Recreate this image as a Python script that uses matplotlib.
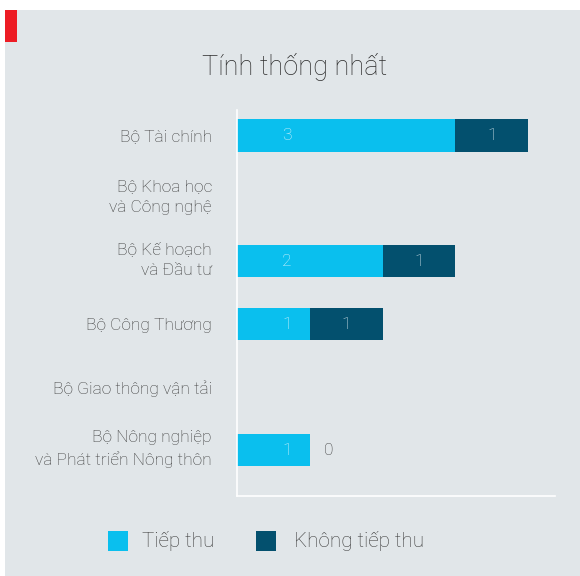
import matplotlib
matplotlib.use("Agg")
import matplotlib.pyplot as plt
from matplotlib.patches import Rectangle
from matplotlib.transforms import ScaledTranslation

categories = ["Bộ Tài chính", "Bộ Khoa học\nvà Công nghệ", "Bộ Kế hoạch\nvà Đầu tư",
              "Bộ Công Thương", "Bộ Giao thông vận tải",
              "Bộ Nông nghiệp\nvà Phát triển Nông thôn"]
tiep_thu = [3, None, 2, 1, None, 1]
khong_tiep_thu = [1, None, 1, 1, None, 0]
series_names = ["Tiếp thu", "Không tiếp thu"]
title = "Tính thống nhất"

C_LIGHT = "#0ABFEE"
C_DARK = "#03506E"
BG = "#E1E6E9"
TXT = "#3C3C3C"

plt.rcParams['font.family'] = ['Roboto', 'DejaVu Sans']
W, H = 580, 576
fig = plt.figure(figsize=(W/100, H/100), dpi=100, facecolor="white")

def px(x0, y0, x1, y1):
    return [x0/W, 1 - y1/H, (x1-x0)/W, (y1-y0)/H]

fig.patches.append(Rectangle((5/W, 0), 1 - 5/W, 1 - 10/H, transform=fig.transFigure,
                             facecolor=BG, edgecolor="none", zorder=-10))
fig.patches.append(Rectangle((5/W, 1 - 42/H), 12/W, 32/H, transform=fig.transFigure,
                             facecolor="#ED1C24", edgecolor="none", zorder=-9))
fig.text(295/W, 1 - 67/H, title, ha="center", va="center", fontsize=19.5,
         color="#2E2E2E", fontweight="light")

ax = fig.add_axes(px(237, 110, 555, 496))
ax.set_facecolor("none")
ys = list(range(len(categories)))
for i, (a, b) in enumerate(zip(tiep_thu, khong_tiep_thu)):
    if a is None:
        continue
    ax.barh(i, a, height=0.52, color=C_LIGHT, edgecolor="none")
    ax.text(0.69, i, str(a), ha="center", va="center", color="#D8F4FC",
            fontsize=12.5, fontweight="light")
    if b:
        ax.barh(i, b, left=a, height=0.52, color=C_DARK, edgecolor="none")
        ax.text(a + b/2, i, str(b), ha="center", va="center", color="#D8E6EC",
                fontsize=12.5, fontweight="light")
    else:
        ax.text(a + 0.19, i, str(b), ha="left", va="center", color=TXT,
                fontsize=12.5, fontweight="light")

ax.set_xlim(0, 4.37)
ax.set_ylim(5.73, -0.4)
ax.set_yticks(ys)
ax.set_yticklabels(categories, fontsize=12.5, color=TXT, fontweight="light",
                   linespacing=1.45)
ax.tick_params(axis="y", length=0, pad=18)
for lbl in ax.get_yticklabels():
    if "\n" in lbl.get_text():
        lbl.set_transform(lbl.get_transform() + ScaledTranslation(0, 0.055, fig.dpi_scale_trans))
ax.set_xticks([])
for s in ["top", "right"]:
    ax.spines[s].set_visible(False)
for s in ["left", "bottom"]:
    ax.spines[s].set_color("white")
    ax.spines[s].set_linewidth(1.2)

# legend
fig.patches.append(Rectangle((108/W, 1 - 551/H), 20/W, 20/H, transform=fig.transFigure,
                             facecolor=C_LIGHT, edgecolor="none"))
fig.text(142/W, 1 - 541/H, series_names[0], ha="left", va="center", fontsize=14.9,
         color=TXT, fontweight="light")
fig.patches.append(Rectangle((256/W, 1 - 551/H), 20/W, 20/H, transform=fig.transFigure,
                             facecolor=C_DARK, edgecolor="none"))
fig.text(294/W, 1 - 541/H, series_names[1], ha="left", va="center", fontsize=14.9,
         color=TXT, fontweight="light")

fig.savefig("out.png", dpi=100, facecolor="white")
